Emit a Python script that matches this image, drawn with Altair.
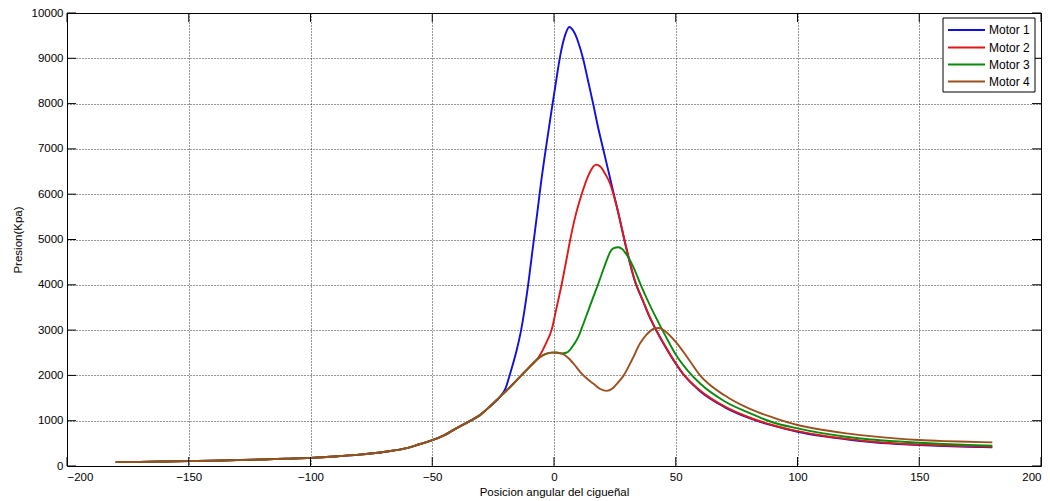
import altair as alt
import pandas as pd

# ---------------- data ----------------
motors = ["Motor 1", "Motor 2", "Motor 3", "Motor 4"]
colors = ["#1010e0", "#e01818", "#0a8a0a", "#9c4f1e"]

# shared compression branch (all motors identical here)
base_angle = [-180, -170, -160, -150, -140, -130, -120, -110, -100, -90, -80, -70,
              -60, -55, -50, -45, -41.4, -35, -30.4, -26, -22.2]
base_p = [85, 92, 100, 108, 118, 130, 145, 162, 180, 210, 250, 310,
          400, 485, 570, 680, 793, 980, 1123, 1330, 1527]

m4_angle = [-20, -17, -14, -10, -7, -5, -3, -1, 0.5, 3, 6, 8.5, 10.7, 13.5, 16.1, 19, 21.6,
            24, 26, 28.5, 32, 35.3, 38, 41, 43, 46, 50, 55, 60, 70, 80, 90, 100, 110, 120,
            130, 140, 150, 160, 170, 180]
m4_p = [1640, 1800, 1967, 2190, 2350, 2430, 2480, 2503, 2505, 2485, 2380, 2230, 2077, 1930,
        1821, 1700, 1659, 1710, 1825, 1990, 2340, 2703, 2900, 3030, 3045, 2960, 2740, 2380,
        2000, 1560, 1270, 1070, 906, 800, 720, 660, 610, 573, 550, 535, 521]

m1_angle = [-20, -18, -15.5, -13.5, -11, -8.5, -6.5, -5.1, -3.7, -2.2, -1, 0.3, 1.5, 3, 4.5,
            6.3, 8, 10, 12, 14, 16.1, 18, 20.2, 22.3, 24, 26, 29.9, 33, 36.7, 39, 42, 45, 50,
            53, 60, 70, 80.5, 90, 100, 110, 120, 130, 140, 150, 160, 170, 180]
m1_p = [1700, 2041, 2520, 3000, 3850, 4900, 5750, 6350, 6880, 7420, 7850, 8300, 8720, 9180,
        9500, 9692, 9600, 9350, 8980, 8500, 7990, 7500, 6998, 6520, 6130, 5680, 4760, 4120,
        3620, 3320, 2990, 2700, 2260, 2030, 1650, 1300, 1050, 890, 756, 660, 590, 530, 490,
        463, 440, 425, 411]

m2_angle = [-5, -3, -1, 1, 3.2, 5, 6.6, 9, 11.4, 14, 16, 17.2, 19, 21, 23, 26, 29.9, 33, 36.7,
            39, 42, 45, 50, 53, 60, 70, 80.5, 90, 100, 110, 120, 130, 140, 150, 160, 170, 180]
m2_p = [2520, 2740, 3000, 3480, 4024, 4520, 4978, 5560, 6006, 6400, 6600, 6652, 6610, 6450,
        6240, 5680, 4770, 4130, 3630, 3330, 3000, 2710, 2270, 2040, 1665, 1315, 1065, 900,
        770, 672, 600, 540, 500, 475, 452, 438, 425]

m3_angle = [5, 6.5, 8, 10, 12, 14, 16, 18.2, 20, 22, 23, 24.5, 26.4, 28, 30, 32.6, 36, 40,
            43, 46, 50, 55, 60, 70, 80, 90, 100, 110, 120, 130, 140, 150, 160, 170, 180]
m3_p = [2500, 2560, 2670, 2850, 3130, 3420, 3710, 4024, 4300, 4590, 4720, 4810, 4830, 4790,
        4650, 4390, 3950, 3480, 3160, 2850, 2460, 2100, 1820, 1430, 1174, 960, 832, 725, 645,
        585, 545, 514, 487, 466, 448]

x_ticks = [-200, -150, -100, -50, 0, 50, 100, 150, 200]
y_ticks = [0, 1000, 2000, 3000, 4000, 5000, 6000, 7000, 8000, 9000, 10000]

# ---------------- build table ----------------
rows = []
def add(name, angles, vals):
    for a, v in zip(angles, vals):
        rows.append({"motor": name, "angle": a, "p": v})

m4_pairs = list(zip(m4_angle, m4_p))
add("Motor 1", base_angle + m1_angle, base_p + m1_p)
pre2 = [(a, v) for a, v in m4_pairs if a <= -7]
add("Motor 2", base_angle + [a for a, _ in pre2] + m2_angle, base_p + [v for _, v in pre2] + m2_p)
pre3 = [(a, v) for a, v in m4_pairs if a <= 3]
add("Motor 3", base_angle + [a for a, _ in pre3] + m3_angle, base_p + [v for _, v in pre3] + m3_p)
add("Motor 4", base_angle + m4_angle, base_p + m4_p)
df = pd.DataFrame(rows)

W, H = 974, 453
FONT = "Liberation Sans"
TL = 9  # inward tick length

xscale = alt.Scale(domain=[-200, 200], nice=False, zero=False)
yscale = alt.Scale(domain=[0, 10000], nice=False)
cscale = alt.Scale(domain=motors, range=colors)

common_axis = dict(grid=True, ticks=False, domain=False, labelFont=FONT, titleFont=FONT,
                   labelFontSize=11.5, titleFontSize=11.5, labelColor="black",
                   titleColor="black", titleFontWeight="normal", gridColor="black",
                   gridDash=[1, 2], gridOpacity=0.8, gridWidth=1, format="d")
xaxis = alt.Axis(values=x_ticks, title="Posicion angular del cigueñal", labelPadding=5,
                 titlePadding=4, **common_axis)
yaxis = alt.Axis(values=y_ticks, title="Presion(Kpa)", labelPadding=4, titlePadding=8,
                 **common_axis)

lines = alt.Chart(df).mark_line(strokeWidth=1.9, interpolate="monotone").encode(
    x=alt.X("angle:Q", scale=xscale, axis=xaxis, title="Posicion angular del cigueñal"),
    y=alt.Y("p:Q", scale=yscale, axis=yaxis, title="Presion(Kpa)"),
    color=alt.Color("motor:N", scale=cscale, legend=None),
    detail="motor:N",
)

xt = pd.DataFrame({"t": x_ticks})
yt = pd.DataFrame({"t": y_ticks})
X_T = alt.X("t:Q", scale=xscale, axis=xaxis, title="Posicion angular del cigueñal")
Y_T = alt.Y("t:Q", scale=yscale, axis=yaxis, title="Presion(Kpa)")
xt_bot = alt.Chart(xt).mark_rule(color="black").encode(
    x=X_T, y=alt.value(H), y2=alt.value(H - TL))
xt_top = alt.Chart(xt).mark_rule(color="black").encode(
    x=X_T, y=alt.value(0), y2=alt.value(TL))
yt_left = alt.Chart(yt).mark_rule(color="black").encode(
    y=Y_T, x=alt.value(0), x2=alt.value(TL))
yt_right = alt.Chart(yt).mark_rule(color="black").encode(
    y=Y_T, x=alt.value(W), x2=alt.value(W - TL))

main = alt.layer(lines, xt_bot, xt_top, yt_left, yt_right)

# ---------------- legend (pixel space layer) ----------------
px = alt.Scale(domain=[0, W], nice=False, zero=False)
py = alt.Scale(domain=[0, H], nice=False, zero=False, reverse=True)
box = pd.DataFrame({"x1": [876], "x2": [968], "y1": [5], "y2": [79]})
leg = pd.DataFrame({"motor": motors,
                    "ly": [17, 34.5, 51.5, 68.5],
                    "lx1": [881] * 4, "lx2": [918] * 4, "tx": [922] * 4})

leg_box = alt.Chart(box).mark_rect(fill="white", stroke="black", strokeWidth=1).encode(
    x=alt.X("x1:Q", scale=px, axis=None), x2="x2:Q",
    y=alt.Y("y1:Q", scale=py, axis=None), y2="y2:Q")
leg_rules = alt.Chart(leg).mark_rule(strokeWidth=1.9).encode(
    x=alt.X("lx1:Q", scale=px, axis=None), x2="lx2:Q",
    y=alt.Y("ly:Q", scale=py, axis=None),
    color=alt.Color("motor:N", scale=cscale, legend=None))
leg_text = alt.Chart(leg).mark_text(align="left", baseline="middle", font=FONT,
                                    fontSize=12, color="black").encode(
    x=alt.X("tx:Q", scale=px, axis=None),
    y=alt.Y("ly:Q", scale=py, axis=None),
    text="motor:N")
legend = alt.layer(leg_box, leg_rules, leg_text)

chart = alt.layer(main, legend).resolve_scale(x="independent", y="independent").properties(
    width=W, height=H,
    background="white",
    autosize=alt.AutoSizeParams(type="none"),
    padding={"left": 59, "top": 5, "right": 1, "bottom": 34},
).configure_view(stroke="black", strokeWidth=1)

chart.save("out.html", embed_options={"renderer": "svg", "actions": False})
